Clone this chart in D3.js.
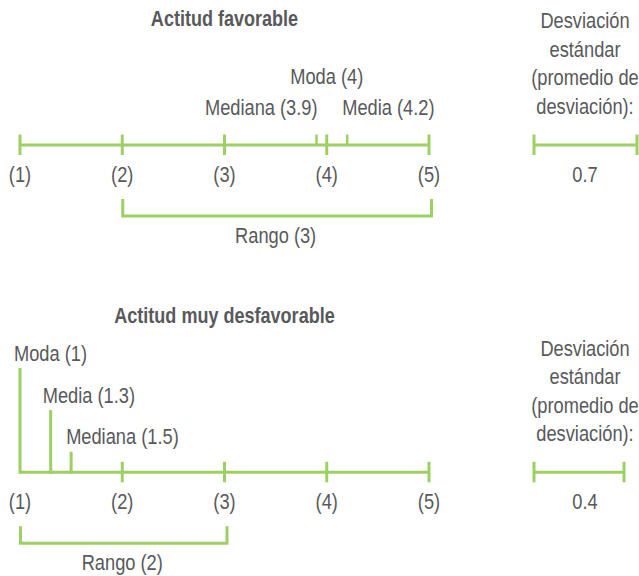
<!DOCTYPE html>
<html><head><meta charset="utf-8">
<script src="https://cdn.jsdelivr.net/npm/d3@7"></script>
<style>
html,body{margin:0;padding:0;background:#fff;}
svg text{font-family:"Liberation Sans",Arial,sans-serif;fill:#58595b;font-size:22px;}
</style></head><body>
<svg id="c" width="639" height="576"></svg>
<script>
const scaleValues = [1, 2, 3, 4, 5];
const tickLabels = ["(1)", "(2)", "(3)", "(4)", "(5)"];
const panelTitles = ["Actitud favorable", "Actitud muy desfavorable"];
const modaValues = [4, 1];
const medianaValues = [3.9, 1.5];
const mediaValues = [4.2, 1.3];
const rangeMin = [2, 1];
const rangeMax = [5, 3];
const sdValues = [0.7, 0.4];
const sdLabel = ["Desviación", "estándar", "(promedio de", "desviación):"];

const green = "#9dd063";
const svg = d3.select("#c");
const x = d3.scaleLinear().domain([1, 5]).range([20, 429]);
const sdScale = d3.scaleLinear().domain([0, 1]).range([72.7, 116]);
const NARROW = 0.83;

function txt(g, tx, ty, anchor, s, bold) {
  const t = g.append("text")
    .attr("transform", `translate(${tx},${ty}) scale(${bold ? 0.82 : NARROW},1)`)
    .attr("text-anchor", anchor).text(s);
  if (bold) t.style("font-weight", "bold");
  return t;
}

const titleY = [26, -4];

function panel(i, oy) {
  const g = svg.append("g").attr("transform", `translate(0,${oy})`);
  const axisY = 145;
  txt(g, x(3), titleY[i], "middle", panelTitles[i], true);

  g.append("line").attr("x1", x(1)).attr("x2", x(5)).attr("y1", axisY).attr("y2", axisY)
    .attr("stroke", green).attr("stroke-width", 3);

  const lowMarker = i === 1;
  g.selectAll(".tk").data(scaleValues.filter(v => !(lowMarker && v === modaValues[i])))
    .enter().append("line")
    .attr("x1", d => x(d)).attr("x2", d => x(d)).attr("y1", axisY - 10.5).attr("y2", axisY + 10)
    .attr("stroke", green).attr("stroke-width", 3);
  scaleValues.forEach((d, k) => txt(g, x(d), 182, "middle", tickLabels[k]));

  if (i === 0) {
    [medianaValues[i], mediaValues[i]].forEach(v => {
      g.append("line").attr("x1", x(v)).attr("x2", x(v)).attr("y1", axisY - 10.5).attr("y2", axisY)
        .attr("stroke", green).attr("stroke-width", 2.5);
    });
    txt(g, x(modaValues[i]), 84, "middle", `Moda (${modaValues[i]})`);
    txt(g, x(medianaValues[i]) + 1, 115, "end", `Mediana (${medianaValues[i]})`);
    txt(g, x(mediaValues[i]) - 5, 115, "start", `Media (${mediaValues[i]})`);
  } else {
    const marks = [
      {v: modaValues[i], top: 40.7, lab: `Moda (${modaValues[i]})`, ty: 33.4, dx: -6},
      {v: mediaValues[i], top: 82.7, lab: `Media (${mediaValues[i]})`, ty: 75.7, dx: -8},
      {v: medianaValues[i], top: 124.4, lab: `Mediana (${medianaValues[i]})`, ty: 116.7, dx: -5}
    ];
    marks.forEach(m => {
      g.append("line").attr("x1", x(m.v)).attr("x2", x(m.v)).attr("y1", m.top).attr("y2", axisY + 1.5)
        .attr("stroke", green).attr("stroke-width", 3);
      txt(g, x(m.v) + m.dx, m.ty, "start", m.lab);
    });
  }

  const bx1 = x(rangeMin[i]) + 0.5, bx2 = x(rangeMax[i]) + 2.5;
  g.append("path")
    .attr("d", `M${bx1},199V216H${bx2}V199`)
    .attr("fill", "none").attr("stroke", green).attr("stroke-width", 3);
  txt(g, (x(rangeMin[i]) + x(rangeMax[i])) / 2, 243, "middle", `Rango (${rangeMax[i] - rangeMin[i]})`);

  const cx = 585;
  sdLabel.forEach((t, k) => txt(g, cx, 28.3 + k * 28.5, "middle", t));
  const sx1 = 534, sx2 = sx1 + sdScale(sdValues[i]);
  g.append("line").attr("x1", sx1).attr("x2", sx2).attr("y1", axisY).attr("y2", axisY)
    .attr("stroke", green).attr("stroke-width", 3);
  [sx1, sx2].forEach(sx => g.append("line").attr("x1", sx).attr("x2", sx)
    .attr("y1", axisY - 10.5).attr("y2", axisY + 10).attr("stroke", green).attr("stroke-width", 3));
  txt(g, cx, 182, "middle", String(sdValues[i]));
}
panel(0, 0);
panel(1, 327.3);
</script>
</body></html>
